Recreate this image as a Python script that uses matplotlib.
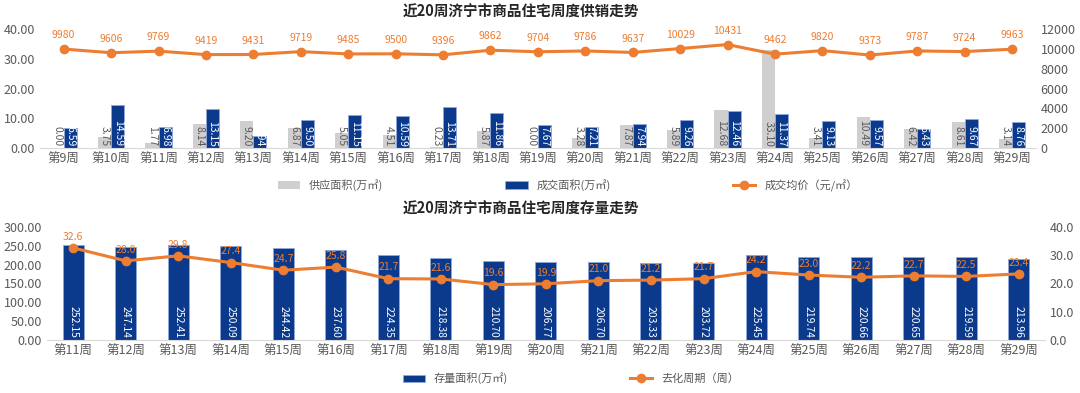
import matplotlib.pyplot as plt
import numpy as np

plt.rcParams['font.family'] = ['Noto Sans CJK SC', 'DejaVu Sans']

# top chart: weekly supply / sales
weeks_top = ["第%d周" % w for w in range(9, 30)]
supply = [0.00, 3.75, 1.77, 8.14, 9.20, 6.87, 5.05, 4.51, 0.23, 5.87, 0.00,
          3.28, 7.87, 5.89, 12.68, 33.10, 3.41, 10.49, 6.42, 8.61, 3.14]
sales = [6.59, 14.59, 6.98, 13.15, 3.94, 9.50, 11.15, 10.59, 13.71, 11.86, 7.67,
         7.21, 7.94, 9.26, 12.46, 11.37, 9.13, 9.57, 6.43, 9.67, 8.76]
price = [9980, 9606, 9769, 9419, 9431, 9719, 9485, 9500, 9396, 9862, 9704,
         9786, 9637, 10029, 10431, 9462, 9820, 9373, 9787, 9724, 9963]

# bottom chart: inventory
weeks_bot = ["第%d周" % w for w in range(11, 30)]
stock = [252.15, 247.14, 252.41, 250.09, 244.42, 237.60, 224.35, 218.38, 210.70,
         206.77, 206.70, 203.33, 203.72, 225.45, 219.74, 220.66, 220.65, 219.59, 213.96]
cycle = [32.6, 28.0, 29.8, 27.4, 24.7, 25.8, 21.7, 21.6, 19.6, 19.9,
         21.0, 21.2, 21.7, 24.2, 23.0, 22.2, 22.7, 22.5, 23.4]

BLUE = "#0B3A8C"
GRAY = "#D0CECE"
ORANGE = "#ED7D31"
TXT = "#595959"

fig = plt.figure(figsize=(10.8, 3.93), dpi=100)


def style_axes(ax, ax2):
    for a in (ax, ax2):
        for s in ("top", "right", "left"):
            a.spines[s].set_visible(False)
        a.spines["bottom"].set_visible(False)
        a.tick_params(length=0, labelsize=9, labelcolor=TXT)
    ax.spines["bottom"].set_visible(True)
    ax.spines["bottom"].set_color("#D9D9D9")


# ---------- top ----------
ax1 = fig.add_axes([0.037, 0.6234, 0.922, 0.3028])
ax1b = ax1.twinx()
x = np.arange(len(weeks_top))
w = 0.275
b1 = ax1.bar(x - w / 2, supply, w, color=GRAY, label="供应面积(万㎡)")
b2 = ax1.bar(x + w / 2, sales, w, color=BLUE, edgecolor="#8FA9D9", linewidth=0.6,
             label="成交面积(万㎡)")
for xi, v in zip(x, supply):
    ax1.text(xi - w / 2, 0.5, "%.2f" % v, rotation=-90, rotation_mode="anchor",
             ha="right", va="center", fontsize=7.5, color=TXT)
for xi, v in zip(x, sales):
    ax1.text(xi + w / 2, 0.5, "%.2f" % v, rotation=-90, rotation_mode="anchor",
             ha="right", va="center", fontsize=7.5, color="white")
ln1, = ax1b.plot(x, price, color=ORANGE, lw=2.2, marker="o", ms=6,
                 label="成交均价（元/㎡）")
for xi, v in zip(x, price):
    ax1b.text(xi, v + 900, str(v), ha="center", va="bottom", fontsize=7.5, color=ORANGE)
ax1.set_ylim(0, 40)
ax1.set_yticks(np.arange(0, 41, 10))
ax1.set_yticklabels(["%.2f" % t for t in np.arange(0, 41, 10)])
ax1b.set_ylim(0, 12000)
ax1b.set_yticks(np.arange(0, 12001, 2000))
ax1.set_xlim(-0.5, len(x) - 0.5)
ax1.set_xticks(x)
ax1.set_xticklabels(weeks_top)
style_axes(ax1, ax1b)
ax1.legend(handles=[b1, b2, ln1], loc="upper center", bbox_to_anchor=(0.53, -0.18),
           ncol=3, frameon=False, fontsize=8, columnspacing=11, labelcolor=TXT,
           handlelength=2, handleheight=0.7)
fig.text(0.482, 0.97, "近20周济宁市商品住宅周度供销走势", ha="center", va="center",
         fontsize=10.5, fontweight="bold", color="#262626")

# ---------- bottom ----------
ax2 = fig.add_axes([0.0435, 0.1349, 0.924, 0.2875])
ax2b = ax2.twinx()
x2 = np.arange(len(weeks_bot))
b3 = ax2.bar(x2, stock, 0.4, color=BLUE, edgecolor="#8FA9D9", linewidth=0.6,
             label="存量面积(万㎡)")
for xi, v in zip(x2, stock):
    ax2.text(xi, 5, "%.2f" % v, rotation=-90, rotation_mode="anchor",
             ha="right", va="center", fontsize=7.5, color="white")
ln2, = ax2b.plot(x2, cycle, color=ORANGE, lw=2.2, marker="o", ms=6,
                 label="去化周期（周）")
for xi, v in zip(x2, cycle):
    ax2b.text(xi, v + 2.2, "%.1f" % v, ha="center", va="bottom", fontsize=7.5,
              color=ORANGE)
ax2.set_ylim(0, 300)
ax2.set_yticks(np.arange(0, 301, 50))
ax2.set_yticklabels(["%.2f" % t for t in np.arange(0, 301, 50)])
ax2b.set_ylim(0, 40)
ax2b.set_yticks(np.arange(0, 41, 10))
ax2b.set_yticklabels(["%.1f" % t for t in np.arange(0, 41, 10)])
ax2.set_xlim(-0.5, len(x2) - 0.5)
ax2.set_xticks(x2)
ax2.set_xticklabels(weeks_bot)
style_axes(ax2, ax2b)
ax2.legend(handles=[b3, ln2], loc="upper center", bbox_to_anchor=(0.525, -0.2),
           ncol=2, frameon=False, fontsize=8, columnspacing=11, labelcolor=TXT,
           handlelength=2, handleheight=0.7)
fig.text(0.482, 0.47, "近20周济宁市商品住宅周度存量走势", ha="center", va="center",
         fontsize=10.5, fontweight="bold", color="#262626")

fig.savefig("out.png", dpi=100, facecolor="white")
